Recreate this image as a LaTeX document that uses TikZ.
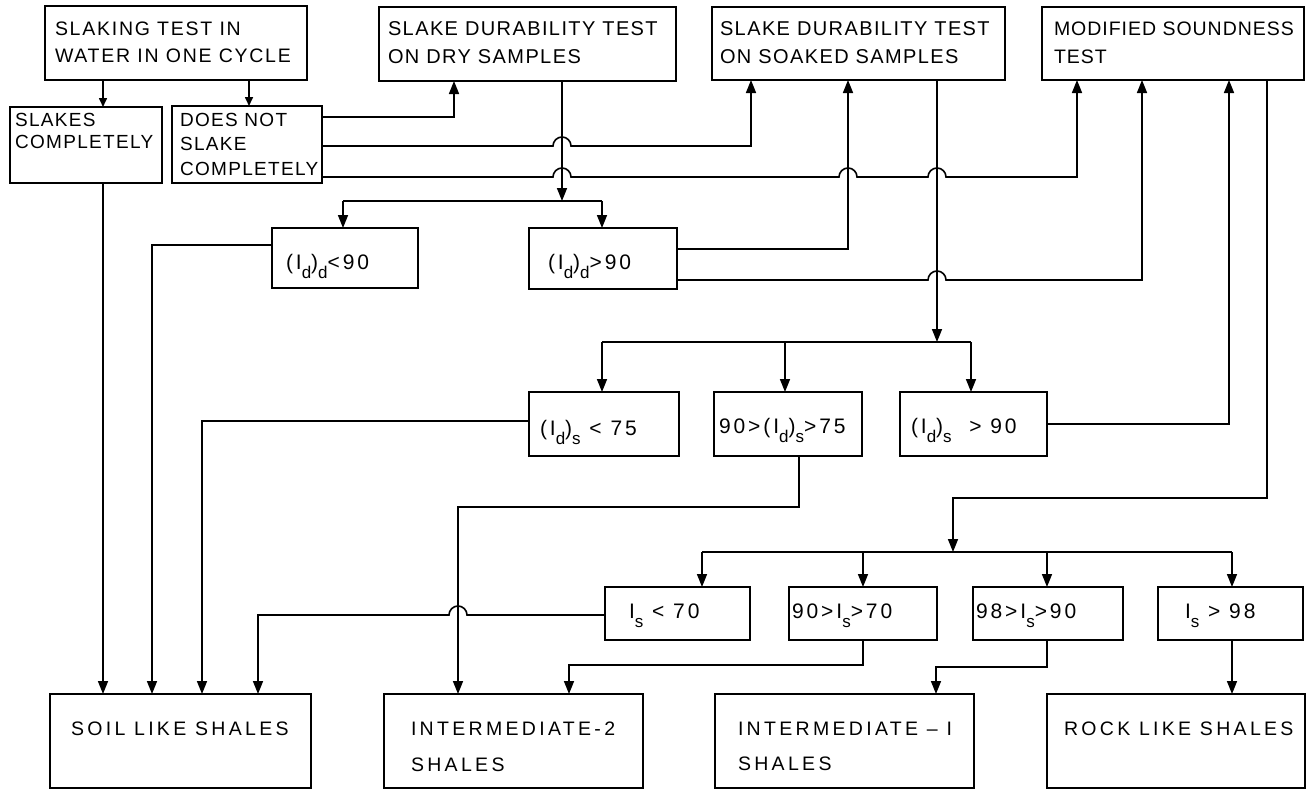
\documentclass[tikz,border=0pt]{standalone}
\usepackage{fontspec}
\setmainfont{Liberation Sans}
\newfontfamily\fA{Liberation Sans}[LetterSpace=9]
\newfontfamily\fT{Liberation Sans}[LetterSpace=7]
\newfontfamily\fF{Liberation Sans}[LetterSpace=5]
\newfontfamily\fM{Liberation Sans}[LetterSpace=14]
\newfontfamily\fL{Liberation Sans}[LetterSpace=17]
\usetikzlibrary{arrows.meta}
\newcommand{\bt}[5]{\parbox[c][#2pt][t]{#1pt}{\parindent=0pt\leftskip=#3pt\rightskip=0pt plus 1fil\vspace*{#4pt}#5\par}}
\newcommand{\sbx}[1]{\raisebox{-0.42em}{\fontsize{17}{17}\selectfont #1}}
\newcommand{\mt}{\fM\fontsize{21}{24}\selectfont}
\newcommand{\bl}{\fL\fontsize{19.5}{35.5}\selectfont}
\begin{document}
\begin{tikzpicture}[x=1pt,y=-1pt,
 box/.style={draw, line width=2.6pt, inner sep=0pt, outer sep=0pt, anchor=north west},
 conn/.style={line width=1.6pt},
 arr/.style={conn, -{Triangle[length=13pt,width=10pt]}},
 sarr/.style={conn, -{Triangle[length=9pt,width=8pt]}}]
\useasboundingbox (0,0) rectangle (1306,790);
% top row
\node[box] (A) at (45,6) {\bt{262}{74}{10}{16}{\fA\fontsize{19.5}{27}\selectfont SLAKING TEST IN\\WATER IN ONE CYCLE}};
\node[box] (B) at (10,107) {\bt{152}{76}{5}{6}{\fT\fontsize{19}{22.5}\selectfont SLAKES\\COMPLETELY}};
\node[box] (C) at (172,106) {\bt{150}{77}{8}{7}{\fT\fontsize{19}{24.5}\selectfont DOES NOT\\SLAKE\\COMPLETELY}};
\node[box] (D) at (379,7) {\bt{297}{74}{9}{15}{\fT\fontsize{20}{28}\selectfont SLAKE DURABILITY TEST\\ON DRY SAMPLES}};
\node[box] (E) at (712,7) {\bt{293}{73}{8}{15}{\fT\fontsize{20}{28}\selectfont SLAKE DURABILITY TEST\\ON SOAKED SAMPLES}};
\node[box] (F) at (1042,7) {\bt{262}{73}{12}{15}{\fF\fontsize{19.5}{28}\selectfont MODIFIED SOUNDNESS\\TEST}};
% second row
\node[box] (G) at (272,228) {\bt{146}{60}{14}{26}{\mt (I\sbx{d})\sbx{d}<90}};
\node[box] (H) at (529,228) {\bt{148}{61}{19}{26}{\mt (I\sbx{d})\sbx{d}>90}};
% third row
\node[box] (I) at (529,392) {\bt{150}{64}{11}{28}{\mt (I\sbx{d})\sbx{s} < 75}};
\node[box] (J) at (714,392) {\bt{148}{64}{5}{26}{\mt 90>(I\sbx{d})\sbx{s}>75}};
\node[box] (K) at (900,392) {\bt{147}{64}{11}{26}{\mt (I\sbx{d})\sbx{s}\ \ > 90}};
% fourth row
\node[box] (L) at (605,587) {\bt{145}{53}{24}{17}{\mt I\sbx{s} < 70}};
\node[box] (M) at (789,587) {\bt{148}{53}{3}{17}{\mt 90>I\sbx{s}>70}};
\node[box] (N) at (973,587) {\bt{150}{53}{3}{17}{\mt 98>I\sbx{s}>90}};
\node[box] (O) at (1158,587) {\bt{145}{53}{27}{17}{\mt I\sbx{s} > 98}};
% results
\node[box] (P) at (50,694) {\bt{261}{94}{21}{28}{\bl SOIL LIKE SHALES}};
\node[box] (Q) at (384,694) {\bt{259}{94}{27}{28}{\bl INTERMEDIATE-2\\SHALES}};
\node[box] (R) at (715,694) {\bt{259}{94}{23}{28}{\bl INTERMEDIATE – I\\SHALES}};
\node[box] (S) at (1047,694) {\bt{258}{94}{17}{28}{\bl ROCK LIKE SHALES}};
% split points
\coordinate (s1) at (562,201); \coordinate (s1l) at (343,201); \coordinate (s1r) at (602,201);
\coordinate (s2) at (937,342); \coordinate (s2l) at (602,342); \coordinate (s2m) at (785,342); \coordinate (s2r) at (971,342);
\coordinate (s3) at (953,552); \coordinate (s3a) at (702,552); \coordinate (s3b) at (863,552); \coordinate (s3c) at (1047,552); \coordinate (s3d) at (1232,552);
% connectors top
\draw[sarr] (A.south -| 103,0) -- (B.north -| 103,0);
\draw[sarr] (A.south -| 249,0) -- (C.north -| 249,0);
\draw[arr] (C.east |- 0,117) -- (454,117) -- (D.south -| 454,0);
\draw[arr] (C.east |- 0,146) -- (553,146) arc[start angle=180,end angle=0,radius=9pt] -- (751,146) -- (E.south -| 751,0);
\draw[arr] (C.east |- 0,177) -- (553,177) arc[start angle=180,end angle=0,radius=9pt]
  -- (839,177) arc[start angle=180,end angle=0,radius=9pt]
  -- (928,177) arc[start angle=180,end angle=0,radius=9pt] -- (1077,177) -- (F.south -| 1077,0);
\draw[arr] (D.south -| s1) -- (s1);
\draw[conn] (s1l) -- (s1r);
\draw[arr] (s1l) -- (G.north -| s1l);
\draw[arr] (s1r) -- (H.north -| s1r);
\draw[arr] (B.south -| 103,0) -- (P.north -| 103,0);
\draw[arr] (G.west |- 0,245) -- (152,245) -- (P.north -| 152,0);
\draw[arr] (H.east |- 0,249) -- (848,249) -- (E.south -| 848,0);
\draw[arr] (H.east |- 0,280) -- (928,280) arc[start angle=180,end angle=0,radius=9pt] -- (1142,280) -- (F.south -| 1142,0);
% soaked branch
\draw[arr] (E.south -| s2) -- (s2);
\draw[conn] (s2l) -- (s2r);
\draw[arr] (s2l) -- (I.north -| s2l);
\draw[arr] (s2m) -- (J.north -| s2m);
\draw[arr] (s2r) -- (K.north -| s2r);
\draw[arr] (I.west |- 0,421) -- (202,421) -- (P.north -| 202,0);
\draw[arr] (K.east |- 0,424) -- (1229,424) -- (F.south -| 1229,0);
\draw[arr] (J.south -| 799,0) -- (799,507) -- (458,507) -- (Q.north -| 458,0);
% soundness branch
\draw[arr] (F.south -| 1267,0) -- (1267,498) -- (953,498) -- (s3);
\draw[conn] (s3a) -- (s3d);
\draw[arr] (s3a) -- (L.north -| s3a);
\draw[arr] (s3b) -- (M.north -| s3b);
\draw[arr] (s3c) -- (N.north -| s3c);
\draw[arr] (s3d) -- (O.north -| s3d);
\draw[arr] (L.west |- 0,615) -- (467,615) arc[start angle=0,end angle=180,radius=9pt] -- (258,615) -- (P.north -| 258,0);
\draw[arr] (M.south -| s3b) -- (863,665) -- (569,665) -- (Q.north -| 569,0);
\draw[arr] (N.south -| s3c) -- (1047,667) -- (936,667) -- (R.north -| 936,0);
\draw[arr] (O.south -| s3d) -- (S.north -| s3d);
\end{tikzpicture}
\end{document}
